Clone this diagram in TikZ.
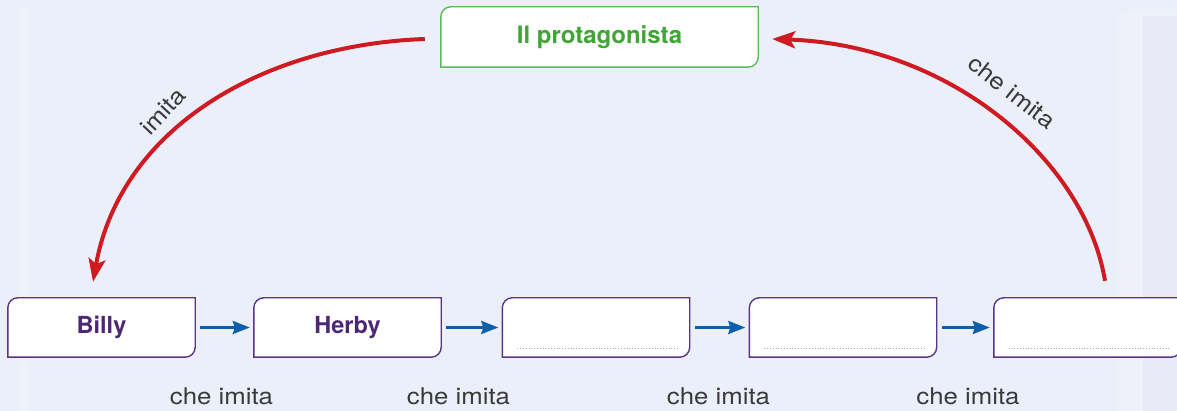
\documentclass[tikz,border=0pt]{standalone}
\usepackage{fontspec}
\setsansfont{TeX Gyre Heros}
\newfontfamily\labelfont[FakeStretch=1.12]{TeX Gyre Heros}
\usetikzlibrary{arrows.meta}

\definecolor{bgblue}{HTML}{EBEFFA}
\definecolor{bgstrip}{HTML}{EFF1FA}
\definecolor{bgedge}{HTML}{E8EBF5}
\definecolor{chainred}{HTML}{D01A21}
\definecolor{chainblue}{HTML}{0E5FAA}
\definecolor{boxpurple}{HTML}{5C3486}
\definecolor{textpurple}{HTML}{4B2774}
\definecolor{boxgreen}{HTML}{5DB85A}
\definecolor{textgreen}{HTML}{3FA535}
\definecolor{labelgray}{HTML}{3A3A3A}

\newcommand\leafframe[2]{%
  \filldraw[fill=white, draw=#2, line width=1.4pt]
    (#1.south west) -- ([yshift=-10pt]#1.north west)
    arc[start angle=180, end angle=90, radius=10pt]
    -- (#1.north east) -- ([yshift=10pt]#1.south east)
    arc[start angle=0, end angle=-90, radius=10pt] -- cycle;}

\tikzset{
  chainbox/.style={minimum width=187pt, minimum height=59pt, inner sep=0pt,
    font=\sffamily\bfseries\fontsize{23.5}{26}\selectfont, text=textpurple},
  headbox/.style={minimum width=317pt, minimum height=60pt, inner sep=0pt,
    font=\sffamily\bfseries\fontsize{24}{27}\selectfont, text=textgreen},
  steparrow/.style={chainblue, line width=2.8pt,
    -{Stealth[length=17pt, width=13pt, inset=2pt]}},
  looparrow/.style={chainred, line width=4pt,
    -{Stealth[length=23pt, width=17pt, inset=5pt]}},
  linklabel/.style={font=\labelfont\fontsize{23}{26}\selectfont, text=labelgray},
  answerline/.style={gray!70, line width=0.8pt, dotted}
}

\begin{document}
\begin{tikzpicture}[x=1pt, y=1pt]
  \useasboundingbox (0,0) rectangle (1177,411);
  \clip (0,0) rectangle (1177,411);

  % page background
  \fill[bgblue] (0,0) rectangle (1177,411);
  \fill[bgstrip] (20,0) rectangle (28,406);
  \fill[bgstrip, rounded corners=12pt] (1117,-20) rectangle (1200,400);
  \fill[bgedge] (1143,0) rectangle (1177,395);

  % boxes
  \node[headbox] (top) at (599.5,374) {};
  \node[chainbox] (b1) at (101.5,83.5) {};
  \node[chainbox] (b2) at (347.5,83.5) {};
  \node[chainbox] (b3) at (596,83.5) {};
  \node[chainbox] (b4) at (843,83.5) {};
  \node[chainbox] (b5) at (1087.5,83.5) {};

  \leafframe{top}{boxgreen}
  \foreach \b in {b1,b2,b3,b4,b5} {\leafframe{\b}{boxpurple}}

  \node[headbox] at (top.center) {Il protagonista};
  \node[chainbox] at (b1.center) {Billy};
  \node[chainbox] at (b2.center) {Herby};

  % dotted answer lines in the empty boxes
  \foreach \b in {b3,b4,b5} {
    \draw[answerline] ([xshift=15pt,yshift=9pt]\b.south west)
      -- ([xshift=-11pt,yshift=9pt]\b.south east);
  }

  % chain of blue arrows
  \draw[steparrow, shorten <=5pt, shorten >=4pt] (b1.east) -- (b2.west);
  \draw[steparrow, shorten <=5pt, shorten >=4pt] (b2.east) -- (b3.west);
  \draw[steparrow, shorten <=5pt, shorten >=4pt] (b3.east) -- (b4.west);
  \draw[steparrow, shorten <=5pt, shorten >=4pt] (b4.east) -- (b5.west);

  \foreach \x in {221.5,458.5,718.5,968} {
    \node[linklabel, anchor=base] at (\x,6) {che imita};
  }

  % red loop arrows
  \draw[looparrow] ([xshift=-16pt,yshift=-2pt]top.west)
    .. controls (260,366) and (120,281) .. ([xshift=-8.5pt,yshift=16pt]b1.north);
  \draw[looparrow] ([xshift=17.5pt,yshift=17pt]b5.north)
    .. controls (1085,251) and (950,366) .. ([xshift=14pt,yshift=-2pt]top.east);

  \node[linklabel, rotate=47] (l1) at (163,300) {imita};
  \node[linklabel, rotate=-38] (l2) at (1012,319) {che imita};
\end{tikzpicture}
\end{document}
